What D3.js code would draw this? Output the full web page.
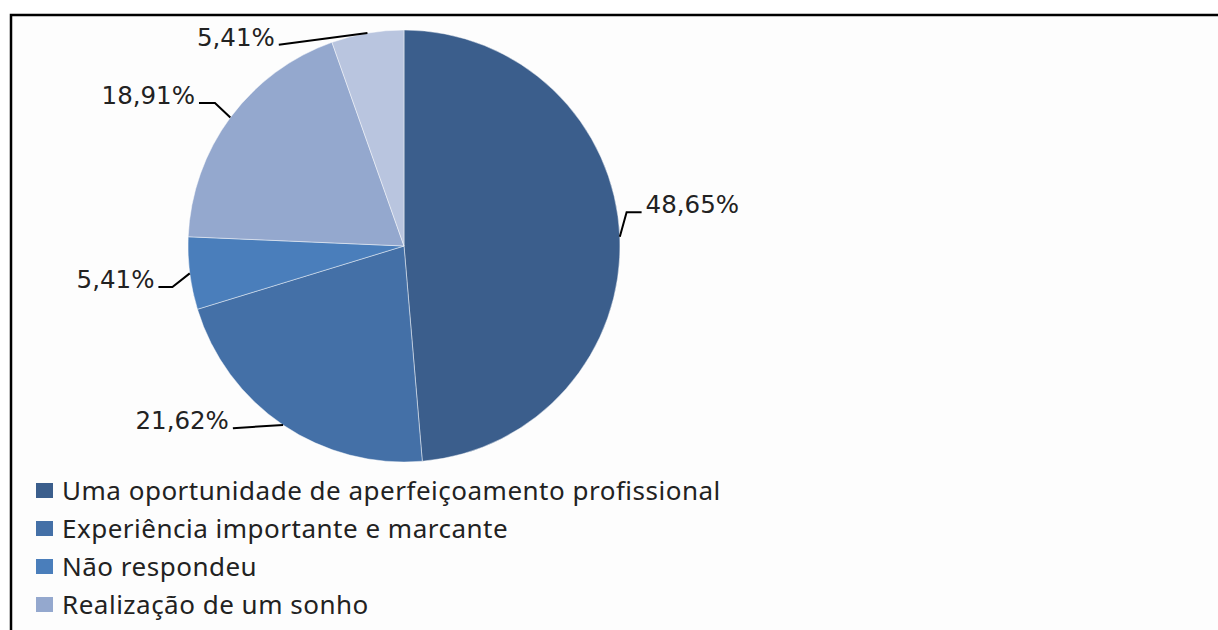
<!DOCTYPE html>
<html>
<head>
<meta charset="utf-8">
<script src="https://cdn.jsdelivr.net/npm/d3@7"></script>
<style>
  body { margin: 0; background: white; }
  svg { display: block; }
  .pctLabel { font-family: 'DejaVu Sans', Verdana, sans-serif; font-size: 24.5px; fill: #222; }
  .legText { font-family: 'Noto Sans', 'Open Sans', sans-serif; font-size: 26px; letter-spacing: 0.5px; fill: #222; }
</style>
</head>
<body>
<div id="chart"></div>
<script>
// chart data (the fifth slice has no legend entry visible in the picture)
let categories = [
    'Uma oportunidade de aperfeiçoamento profissional',
    'Experiência importante e marcante',
    'Não respondeu',
    'Realização de um sonho'
];
let values = [48.65, 21.62, 5.41, 18.91, 5.41];
let valueLabels = ['48,65%', '21,62%', '5,41%', '18,91%', '5,41%'];
let colors = ['#3b5e8c', '#4470a7', '#4a7ebb', '#94a8ce', '#b9c5df'];

let width = 1218;
let height = 630;
let cx = 404;
let cy = 246;
let radius = 216;

// where each leader line ends: angle (deg, clockwise from top), distance from centre, elbow length
let labelSpots = [
    { ang: 81.9, dist: 240, elbow: 15 },
    { ang: 223.2, dist: 250, elbow: 0 },
    { ang: 260.5, dist: 249, elbow: 14 },
    { ang: 304.9, dist: 250, elbow: 16 },
    { ang: 328.1, dist: 237, elbow: 0 }
];

let svg = d3
    .select('#chart')
    .append('svg')
    .attr('width', width)
    .attr('height', height);

// frame (only top and left edges fall inside the picture)
svg
    .append('rect')
    .attr('x', 11)
    .attr('y', 15)
    .attr('width', width + 20)
    .attr('height', height + 20)
    .attr('fill', '#fdfdfd')
    .attr('stroke', '#000')
    .attr('stroke-width', 2.5);

let pie = d3.pie().sort(null).value(d => d);
let arcs = pie(values);
let arc = d3.arc().innerRadius(0).outerRadius(radius);

let pieG = svg
    .append('g')
    .attr('transform', `translate(${cx},${cy})`);

pieG
    .selectAll('path')
    .data(arcs)
    .enter()
    .append('path')
    .attr('d', arc)
    .attr('fill', (d, i) => colors[i])
    .attr('stroke', 'rgba(255,255,255,0.45)')
    .attr('stroke-width', 1);

function polar(angDeg, r) {
    let a = angDeg * Math.PI / 180;
    return [r * Math.sin(a), -r * Math.cos(a)];
}

// leader lines + percentage labels
arcs.forEach((d, i) => {
    let mid = (d.startAngle + d.endAngle) / 2 * 180 / Math.PI;
    let start = polar(mid, radius);
    let spot = labelSpots[i];
    let end = polar(spot.ang, spot.dist);
    let rightSide = end[0] > 0;
    let elbow = [end[0] + (rightSide ? -spot.elbow : spot.elbow), end[1]];

    pieG
        .append('path')
        .attr('d', d3.line()([start, elbow, end]))
        .attr('fill', 'none')
        .attr('stroke', '#000')
        .attr('stroke-width', 2);

    pieG
        .append('text')
        .attr('class', 'pctLabel')
        .attr('x', end[0] + (rightSide ? 4 : -4))
        .attr('y', end[1] + 1)
        .attr('text-anchor', rightSide ? 'start' : 'end')
        .text(valueLabels[i]);
});

// legend
let legend = svg
    .append('g')
    .attr('transform', 'translate(36,500)');

let rows = legend
    .selectAll('g')
    .data(categories)
    .enter()
    .append('g')
    .attr('transform', (d, i) => `translate(0,${i * 38})`);

rows
    .append('rect')
    .attr('x', 0)
    .attr('y', -17)
    .attr('width', 17)
    .attr('height', 15)
    .attr('fill', (d, i) => colors[i]);

rows
    .append('text')
    .attr('class', 'legText')
    .attr('x', 26)
    .attr('y', 0)
    .text(d => d);
</script>
</body>
</html>
